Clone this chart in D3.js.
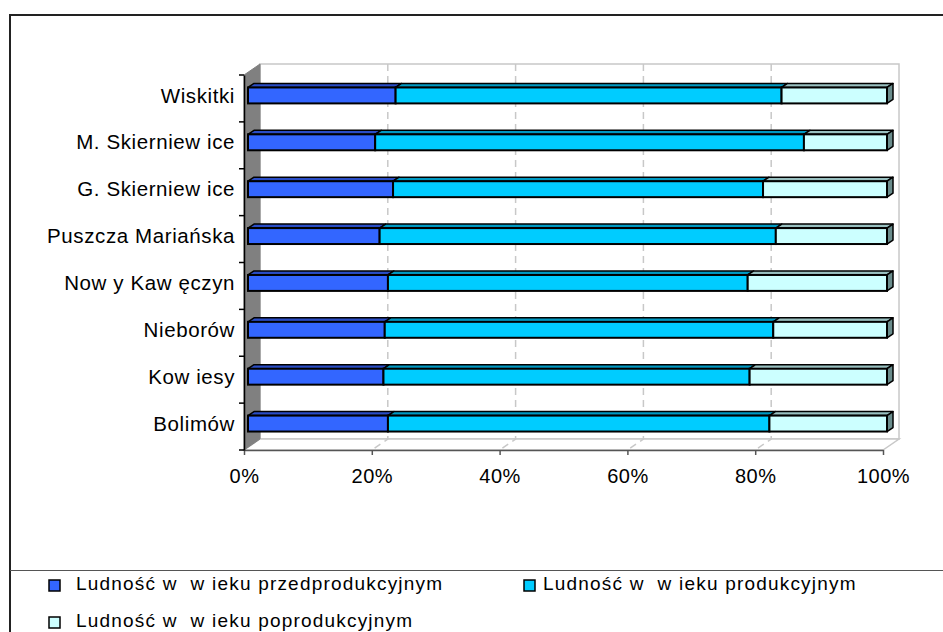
<!DOCTYPE html>
<html>
<head>
<meta charset="utf-8">
<script src="https://cdn.jsdelivr.net/npm/d3@7"></script>
<style>
  html, body { margin: 0; padding: 0; background: #fff; }
  svg { display: block; font-family: "Liberation Sans", Arial, sans-serif; }
</style>
</head>
<body>
<svg id="chart" width="943" height="632"></svg>
<script>
// ---- data (top-to-bottom order as displayed) ----
const categories = ["Wiskitki", "M. Skierniew ice", "G. Skierniew ice", "Puszcza Mariańska",
                    "Now y Kaw ęczyn", "Nieborów", "Kow iesy", "Bolimów"];
const preProd  = [23.1, 19.9, 22.7, 20.6, 21.9, 21.4, 21.2, 21.9];
const prod     = [60.4, 67.1, 57.9, 62.0, 56.3, 60.8, 57.3, 59.7];
const postProd = [16.5, 13.0, 19.4, 17.4, 21.8, 17.8, 21.5, 18.4];
const seriesNames = ["Ludność w  w ieku przedprodukcyjnym", "Ludność w  w ieku produkcyjnym", "Ludność w  w ieku poprodukcyjnym"];
const tickValues = [0, 20, 40, 60, 80, 100];
const tickLabels = ["0%", "20%", "40%", "60%", "80%", "100%"];

// ---- styles ----
const frontColors = ["#3366FF", "#00CCFF", "#CCFFFF"];
const topColors   = ["#2A4DC6", "#0099C2", "#99C0C0"];
const sideColor   = "#6A8C8C";

const svg = d3.select("#chart");

// 3D geometry
const depth = {dx: 16, dy: -11};        // front plane -> back wall
const barFront = {dx: 4, dy: -3};       // bar front face offset
const barDepth = {dx: 6, dy: -4};       // bar thickness in depth

const x = d3.scaleLinear().domain([0, 100]).range([244, 883]);
const y = d3.scaleBand().domain(categories).range([75, 450]);

// outer frame
svg.append("path").attr("d", "M10,632V15H943").attr("fill", "none")
   .attr("stroke", "#222").attr("stroke-width", 2);
svg.append("line").attr("x1", 10).attr("x2", 943).attr("y1", 570.5).attr("y2", 570.5)
   .attr("stroke", "#555").attr("stroke-width", 1);

const x0 = x(0), x1 = x(100), yTop = y.range()[0], yBot = y.range()[1];

// back wall
svg.append("rect")
   .attr("x", x0 + depth.dx).attr("y", yTop + depth.dy)
   .attr("width", x1 - x0).attr("height", yBot - yTop)
   .attr("fill", "#fff").attr("stroke", "#c8c8c8").attr("stroke-width", 1.5);

// floor
svg.append("path")
   .attr("d", `M${x0},${yBot}L${x1},${yBot}L${x1 + depth.dx},${yBot + depth.dy}L${x0 + depth.dx},${yBot + depth.dy}Z`)
   .attr("fill", "#fff").attr("stroke", "#c8c8c8").attr("stroke-width", 1.5);

// gridlines on back wall + floor
const grid = svg.append("g");
tickValues.filter(v => v > 0 && v < 100).forEach(v => {
  const gx = x(v);
  grid.append("path")
    .attr("d", `M${gx + depth.dx},${yTop + depth.dy}V${yBot + depth.dy}L${gx},${yBot}`)
    .attr("fill", "none").attr("stroke", "#c8c8c8").attr("stroke-width", 1.5)
    .attr("stroke-dasharray", "7,5");
});

// left wall
svg.append("path")
   .attr("d", `M${x0},${yTop}L${x0 + depth.dx},${yTop + depth.dy}L${x0 + depth.dx},${yBot + depth.dy}L${x0},${yBot}Z`)
   .attr("fill", "#808080").attr("stroke", "#808080");

// axes
const xAxis = d3.axisBottom(x).tickValues(tickValues).tickFormat((d, i) => tickLabels[i]).tickSize(5).tickSizeOuter(0);
const gx = svg.append("g").attr("transform", `translate(0,${yBot})`).call(xAxis);
gx.select(".domain").attr("stroke", "#555").attr("stroke-width", 1.5);
gx.selectAll(".tick line").attr("stroke", "#555").attr("stroke-width", 1.5);
gx.selectAll(".tick text").attr("font-size", 20).attr("fill", "#000")
  .attr("font-family", "Liberation Sans, Arial, sans-serif")
  .attr("letter-spacing", 0.5).attr("y", 10).attr("dy", "1.15em");

const yAxis = d3.axisLeft(y).tickSize(0).tickPadding(9);
const gy = svg.append("g").attr("transform", `translate(${x0},0)`).call(yAxis);
gy.select(".domain").attr("stroke", "#000").attr("stroke-width", 1.5);
gy.selectAll(".tick text").attr("font-size", 20.5).attr("fill", "#000")
  .attr("font-family", "Liberation Sans, Arial, sans-serif")
  .attr("letter-spacing", 0.6).attr("dy", "0.3em").attr("y", -2)
  .style("white-space", "pre");
// category separator ticks
const sepY = categories.map(c => y(c)).concat([yBot]);
svg.append("g").selectAll("line").data(sepY).join("line")
   .attr("x1", x0 - 5).attr("x2", x0).attr("y1", d => d).attr("y2", d => d)
   .attr("stroke", "#000").attr("stroke-width", 1.5);

// bars
const seriesVals = [preProd, prod, postProd];
const barsG = svg.append("g");
categories.forEach((cat, i) => {
  const c = y(cat) + y.bandwidth() / 2 + barFront.dy;
  const h = y.bandwidth() * 0.34;
  const yt = c - h / 2, yb = c + h / 2;
  let cum = 0;
  const segs = seriesVals.map((s, k) => {
    const a = cum; cum += s[i];
    return {k, X0: x(a) + barFront.dx, X1: x(cum) + barFront.dx};
  });
  const g = barsG.append("g");
  // top faces
  segs.forEach(s => {
    g.append("path")
     .attr("d", `M${s.X0},${yt}L${s.X0 + barDepth.dx},${yt + barDepth.dy}L${s.X1 + barDepth.dx},${yt + barDepth.dy}L${s.X1},${yt}Z`)
     .attr("fill", topColors[s.k]).attr("stroke", "#000").attr("stroke-width", 1.5).attr("stroke-linejoin", "round");
  });
  // right face
  const last = segs[segs.length - 1];
  g.append("path")
   .attr("d", `M${last.X1},${yt}L${last.X1 + barDepth.dx},${yt + barDepth.dy}L${last.X1 + barDepth.dx},${yb + barDepth.dy}L${last.X1},${yb}Z`)
   .attr("fill", sideColor).attr("stroke", "#000").attr("stroke-width", 1.5).attr("stroke-linejoin", "round");
  // front faces
  segs.forEach(s => {
    g.append("rect").attr("x", s.X0).attr("y", yt).attr("width", s.X1 - s.X0).attr("height", h)
     .attr("fill", frontColors[s.k]).attr("stroke", "#000").attr("stroke-width", 2);
  });
});

// legend
const legendPos = [{sx: 49, sy: 580, tx: 76, ty: 590}, {sx: 524, sy: 580, tx: 543, ty: 590}, {sx: 49, sy: 617, tx: 76, ty: 627}];
const lg = svg.append("g");
seriesNames.forEach((name, k) => {
  const p = legendPos[k];
  lg.append("rect").attr("x", p.sx).attr("y", p.sy).attr("width", 11).attr("height", 11)
    .attr("fill", frontColors[k]).attr("stroke", "#000").attr("stroke-width", 1.5);
  lg.append("text").attr("x", p.tx).attr("y", p.ty).text(name)
    .attr("font-size", 19).attr("letter-spacing", 1.2).style("white-space", "pre");
});
</script>
</body>
</html>
